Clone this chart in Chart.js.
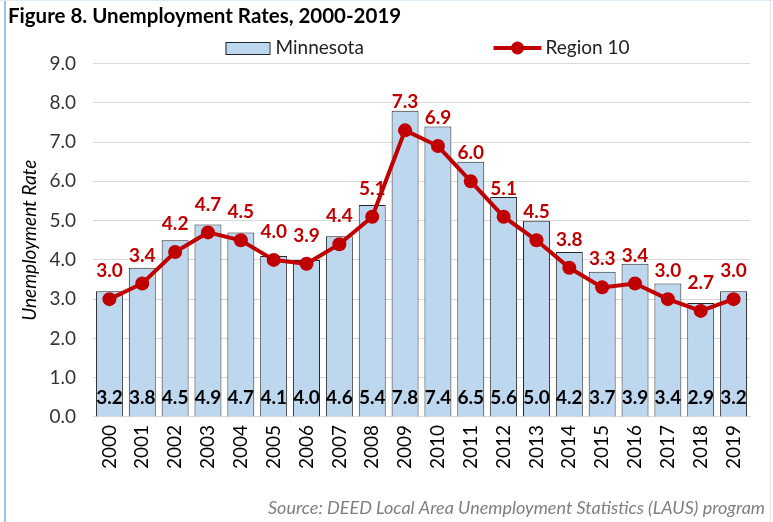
<!DOCTYPE html>
<html>
<head>
<meta charset="utf-8">
<script src="https://cdn.jsdelivr.net/npm/chart.js@4"></script>
<style>
html,body{margin:0;padding:0;background:#fff;}
#wrap{width:773px;height:522px;position:relative;}
</style>
</head>
<body>
<div id="wrap"><canvas id="c" width="773" height="522"></canvas></div>
<script>
const years = ['2000','2001','2002','2003','2004','2005','2006','2007','2008','2009','2010','2011','2012','2013','2014','2015','2016','2017','2018','2019'];
const minnesota = [3.2,3.8,4.5,4.9,4.7,4.1,4.0,4.6,5.4,7.8,7.4,6.5,5.6,5.0,4.2,3.7,3.9,3.4,2.9,3.2];
const region10 = [3.0,3.4,4.2,4.7,4.5,4.0,3.9,4.4,5.1,7.3,6.9,6.0,5.1,4.5,3.8,3.3,3.4,3.0,2.7,3.0];
const yTicks = [0,1,2,3,4,5,6,7,8,9];

const FONT = 'Lato, "Open Sans", "Noto Sans", sans-serif';
const BAR_FILL = '#BDD7EE';
const BAR_LINE = '#262626';
const RED = '#C00000';

const framePlugin = {
  id: 'frame',
  beforeDraw(chart) {
    const ctx = chart.ctx;
    ctx.save();
    ctx.fillStyle = '#fff';
    ctx.fillRect(0, 0, chart.width, chart.height);
    ctx.fillStyle = '#9DC3E6';
    ctx.fillRect(4, 0, 2, chart.height);
    ctx.fillStyle = '#DEEBF7';
    ctx.fillRect(770, 0, 1, chart.height);
    ctx.fillRect(0, 0, chart.width, 1);
    ctx.restore();
  },
  afterDraw(chart) {
    const ctx = chart.ctx;
    const area = chart.chartArea;
    ctx.save();
    // legend
    const ly = 48;
    const cx = (area.left + area.right) / 2;
    ctx.font = '19px ' + FONT;
    ctx.textBaseline = 'middle';
    // Minnesota
    const bx = cx - 196;
    ctx.fillStyle = BAR_FILL;
    ctx.fillRect(bx, ly - 6, 44, 12);
    ctx.strokeStyle = BAR_LINE;
    ctx.lineWidth = 1;
    ctx.strokeRect(bx + 0.5, ly - 5.5, 44, 12);
    ctx.fillStyle = '#222';
    ctx.textAlign = 'left';
    ctx.fillText('Minnesota', bx + 50, ly);
    // Region 10
    const lx = cx + 72;
    ctx.strokeStyle = RED;
    ctx.lineWidth = 4;
    ctx.beginPath();
    ctx.moveTo(lx, ly);
    ctx.lineTo(lx + 48, ly);
    ctx.stroke();
    ctx.fillStyle = RED;
    ctx.beginPath();
    ctx.arc(lx + 24, ly, 6.5, 0, Math.PI * 2);
    ctx.fill();
    ctx.fillStyle = '#222';
    ctx.fillText('Region 10', lx + 52, ly);

    // data labels
    const ys = chart.scales.y;
    const barMeta = chart.getDatasetMeta(0);
    ctx.font = 'bold 19px ' + FONT;
    ctx.textAlign = 'center';
    ctx.fillStyle = '#000';
    barMeta.data.forEach((el, i) => {
      ctx.fillText(minnesota[i].toFixed(1), el.x, ys.getPixelForValue(0.48));
    });
    const lineMeta = chart.getDatasetMeta(1);
    ctx.fillStyle = RED;
    lineMeta.data.forEach((el, i) => {
      ctx.fillText(region10[i].toFixed(1), el.x, el.y - 28);
    });

    // source
    ctx.font = 'italic 18px ' + FONT;
    ctx.fillStyle = '#7F7F7F';
    ctx.textAlign = 'right';
    ctx.fillText('Source: DEED Local Area Unemployment Statistics (LAUS) program', 765, 508);
    ctx.restore();
  }
};

new Chart(document.getElementById('c'), {
  data: {
    labels: years,
    datasets: [
      {
        type: 'bar',
        label: 'Minnesota',
        data: minnesota,
        backgroundColor: BAR_FILL,
        borderColor: BAR_LINE,
        borderWidth: 1,
        barPercentage: 0.82,
        categoryPercentage: 1.0,
        order: 2
      },
      {
        type: 'line',
        label: 'Region 10',
        data: region10,
        borderColor: RED,
        backgroundColor: RED,
        borderWidth: 4,
        pointRadius: 7,
        pointHoverRadius: 7,
        pointBackgroundColor: RED,
        pointBorderWidth: 0,
        tension: 0,
        order: 1
      }
    ]
  },
  options: {
    responsive: false,
    animation: false,
    events: [],
    layout: { padding: { left: 8, right: 23, top: 4, bottom: 45 } },
    plugins: {
      legend: { display: false },
      tooltip: { enabled: false },
      title: {
        display: true,
        text: 'Figure 8. Unemployment Rates, 2000-2019',
        align: 'start',
        color: '#000',
        font: { family: FONT, size: 20.5, weight: 'bold' },
        padding: { top: 0, bottom: 35 }
      }
    },
    scales: {
      x: {
        grid: { display: false, drawTicks: false },
        border: { display: true, color: '#D9D9D9', width: 1 },
        ticks: {
          color: '#000',
          font: { family: FONT, size: 19 },
          minRotation: 90,
          maxRotation: 90,
          padding: 8,
          autoSkip: false
        }
      },
      y: {
        min: 0,
        max: 9,
        afterBuildTicks(scale) { scale.ticks = yTicks.map(v => ({ value: v })); },
        grid: { color: '#D9D9D9', drawTicks: false },
        border: { display: false },
        ticks: {
          color: '#333',
          font: { family: FONT, size: 19 },
          padding: 17,
          callback: v => Number(v).toFixed(1)
        },
        title: {
          display: true,
          text: 'Unemployment Rate',
          color: '#000',
          font: { family: FONT, size: 19, style: 'italic' },
          padding: { top: 10, bottom: 0 }
        },
        afterFit(scale) { scale.width = 85; }
      }
    }
  },
  plugins: [framePlugin]
});
</script>
</body>
</html>
